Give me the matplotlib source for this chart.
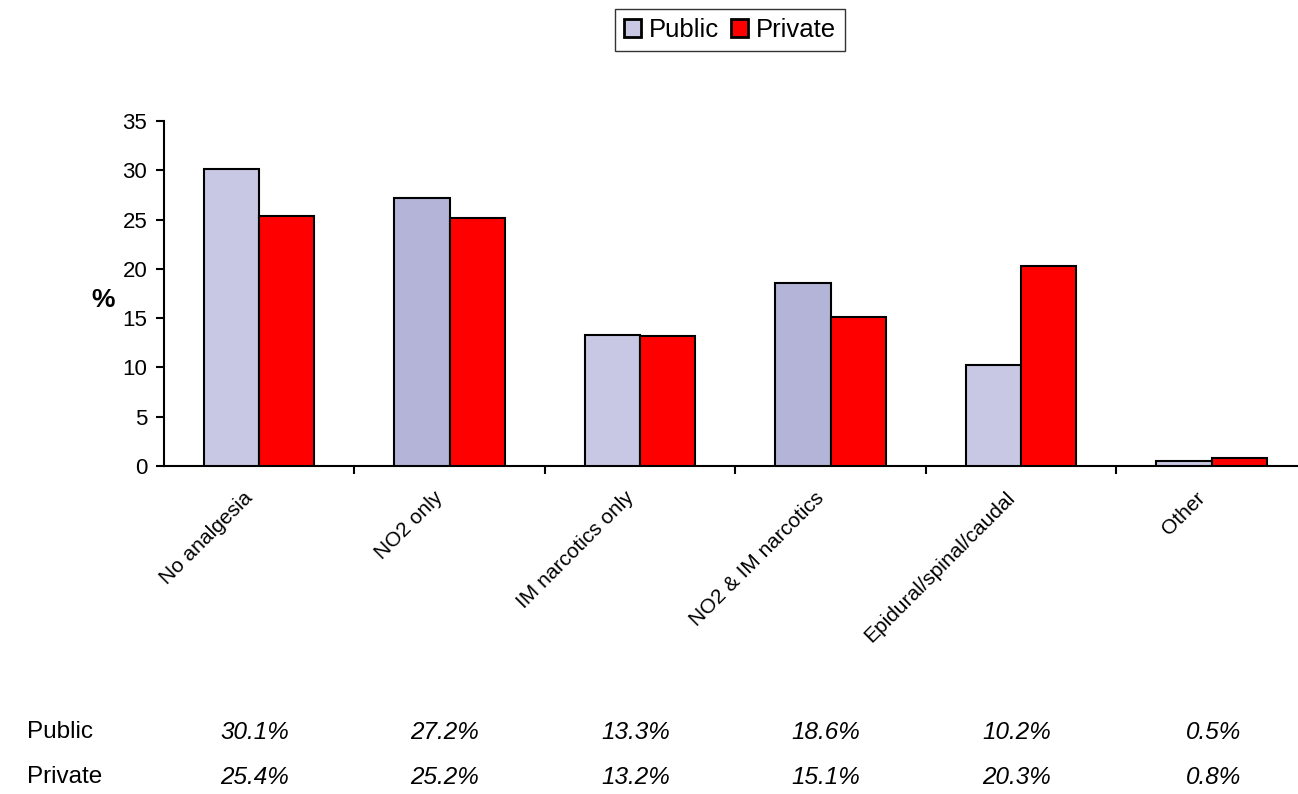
import matplotlib.pyplot as plt
import matplotlib.transforms as mtransforms
import numpy as np

plt.rcParams["font.family"] = ["Liberation Sans", "DejaVu Sans"]

categories = ["No analgesia", "NO2 only", "IM narcotics only",
              "NO2 & IM narcotics", "Epidural/spinal/caudal", "Other"]
public = [30.1, 27.2, 13.3, 18.6, 10.2, 0.5]
private = [25.4, 25.2, 13.2, 15.1, 20.3, 0.8]
public_colors = ["#C8C8E4", "#B4B4D9", "#C8C8E4", "#B4B4D9", "#C8C8E4", "#C8C8E4"]
red = "#FF0000"

fig = plt.figure(figsize=(12.98, 7.94), dpi=100)
ax = fig.add_axes([0.1263, 0.4131, 0.8806, 0.4345])

x = np.arange(len(categories))
w = 0.29
ax.bar(x - w, public, w, align="edge", color=public_colors, edgecolor="black", linewidth=1.5, label="Public", zorder=3)
ax.bar(x, private, w, align="edge", color=red, edgecolor="black", linewidth=1.5, label="Private", zorder=3)

ax.set_xlim(-0.5, len(categories) - 0.5)
ax.set_ylim(0, 35)
ax.set_yticks(np.arange(0, 36, 5))
ax.tick_params(axis="y", labelsize=16, length=6, width=1.5, pad=6)

# boundary ticks between groups, labels at group centres
ax.set_xticks(x)
ax.set_xticklabels([])
ax.tick_params(axis="x", which="major", length=0)
ax.set_xticks(np.arange(0.5, len(categories) - 0.5, 1), minor=True)
ax.tick_params(axis="x", which="minor", length=6, width=1.5)

for i, cat in enumerate(categories):
    ax.annotate(cat, xy=(i, 0), xycoords=("data", "axes fraction"),
                xytext=(-11.5, -16), textcoords="offset points",
                rotation=45, ha="right", va="top", rotation_mode="anchor", fontsize=15)

for s in ["top", "right"]:
    ax.spines[s].set_visible(False)
for s in ["left", "bottom"]:
    ax.spines[s].set_linewidth(1.5)

fig.text(0.0794, 0.622, "%", fontsize=19, fontweight="bold", ha="center", va="center")

# value table under the chart
table_tr = mtransforms.blended_transform_factory(ax.transData, fig.transFigure)
rows = [("Public", public, 0.0780), ("Private", private, 0.0210)]
for name, vals, yy in rows:
    fig.text(0.0208, yy, name, fontsize=17.5, ha="left", va="center")
    for i, v in enumerate(vals):
        ax.text(i + 0.156, yy, f"{v:.1f}%", transform=table_tr,
                fontsize=17.5, style="italic", ha="right", va="center")

leg = fig.legend(loc="center", bbox_to_anchor=(0.5624, 0.962), ncol=2, fontsize=18.5,
                 frameon=True, fancybox=False, edgecolor="black", handlelength=0.66,
                 handleheight=0.66, handletextpad=0.3, columnspacing=0.5, borderpad=0.35,
                 borderaxespad=0)
leg.get_frame().set_linewidth(1.0)
for h in leg.legend_handles:
    h.set_linewidth(2)
leg.legend_handles[0].set_facecolor("#C8C8E4")

fig.savefig("out.png", dpi=100)
